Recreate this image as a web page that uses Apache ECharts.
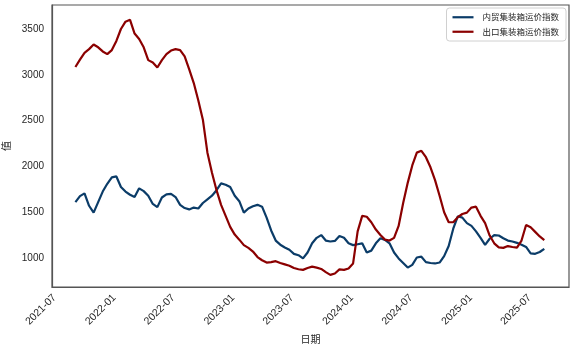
<!DOCTYPE html>
<html>
<head>
<meta charset="utf-8">
<script src="https://cdn.jsdelivr.net/npm/echarts@6/dist/echarts.min.js"></script>
<style>
  html, body { margin: 0; padding: 0; background: #fff; }
  #chart { width: 576px; height: 346px; }
</style>
</head>
<body>
<div id="chart"></div>
<script>
// Fortnightly index readings, first week 2021-09-03
const startDate = '2021-09-03';
const stepDays = 14;

const domesticIndex = [
  1610, 1675, 1705, 1570, 1495, 1610, 1725, 1810, 1880, 1890,
  1775, 1725, 1690, 1665, 1760, 1730, 1680, 1590, 1555, 1660,
  1695, 1700, 1665, 1580, 1545, 1530, 1550, 1540, 1600, 1640,
  1680, 1740, 1815, 1800, 1775, 1680, 1620, 1495, 1540, 1565,
  1580, 1560, 1440, 1300, 1190, 1145, 1115, 1090, 1045, 1030,
  995, 1060, 1160, 1220, 1250, 1190, 1180, 1186, 1240, 1220,
  1160, 1140, 1150, 1160, 1060, 1080, 1160, 1215, 1197, 1160,
  1060, 995, 945, 895, 925, 1005, 1014, 955, 945, 940,
  950, 1020, 1130, 1320, 1455, 1440, 1380, 1350, 1290, 1220,
  1142, 1210, 1250, 1245, 1215, 1190, 1180, 1165, 1145, 1120,
  1050, 1045, 1065, 1100
];

const exportIndex = [
  3085, 3165, 3240, 3280, 3330, 3300, 3255, 3225, 3270, 3370,
  3500, 3580, 3600, 3450, 3390, 3300, 3160, 3135, 3080, 3160,
  3225, 3265, 3280, 3270, 3200, 3060, 2910, 2720, 2510, 2150,
  1930, 1740, 1580, 1460, 1340, 1255, 1200, 1140, 1110, 1070,
  1010, 975, 950, 955, 965, 945, 930, 915, 890, 877,
  870, 890, 905, 895, 880, 845, 815, 830, 875, 870,
  885, 940, 1290, 1460, 1450, 1390, 1310, 1250, 1200, 1190,
  1220, 1350, 1600, 1820, 2010, 2150, 2170, 2100, 1990, 1850,
  1680, 1500, 1390, 1390, 1445, 1480, 1495, 1550, 1560, 1460,
  1380, 1245, 1160, 1115, 1110, 1130, 1120, 1113, 1190, 1360,
  1335, 1285, 1235, 1195
];

const seriesNames = ['内贸集装箱运价指数', '出口集装箱运价指数'];
const xTickLabels = ['2021-07', '2022-01', '2022-07', '2023-01', '2023-07',
                     '2024-01', '2024-07', '2025-01', '2025-07'];
const yTickValues = [1000, 1500, 2000, 2500, 3000, 3500];

const DAY = 86400000;
const t0 = new Date(startDate + 'T00:00:00').getTime();
const dates = domesticIndex.map((_, i) => t0 + i * stepDays * DAY);

const toTime = s => new Date(s + '-01T00:00:00').getTime();
const xTicks = xTickLabels.map(toTime);
const pad2 = n => (n < 10 ? '0' : '') + n;

const font = "'Liberation Sans', 'Noto Sans CJK SC', sans-serif";
const cjk = "'Noto Sans CJK SC', sans-serif";

const chart = echarts.init(document.getElementById('chart'), null, { renderer: 'canvas' });
chart.setOption({
  backgroundColor: '#ffffff',
  animation: false,
  grid: {
    left: 52, right: 7, top: 5, bottom: 59,
    show: true, borderColor: '#555555', borderWidth: 1.2,
    containLabel: false,
    outerBoundsMode: 'none'
  },
  legend: {
    data: seriesNames,
    right: 10, top: 8,
    orient: 'vertical',
    icon: 'rect',
    itemWidth: 21, itemHeight: 2.2,
    itemGap: 6,
    padding: [5, 7, 5, 6],
    backgroundColor: '#ffffff',
    borderColor: '#d0d0d0', borderWidth: 1, borderRadius: 3,
    textStyle: { fontFamily: cjk, fontSize: 8.5, color: '#262626', padding: [0, 0, 0, 4] }
  },
  xAxis: {
    type: 'value',
    min: toTime('2021-07') - 8 * DAY,
    max: toTime('2025-07') + 121 * DAY,
    name: '日期',
    nameLocation: 'middle',
    nameGap: 43,
    nameTextStyle: { fontFamily: cjk, fontSize: 10, color: '#262626' },
    axisLine: { show: true, lineStyle: { color: '#555555', width: 1.2 } },
    axisTick: { show: false },
    splitLine: { show: false },
    axisLabel: {
      customValues: xTicks,
      rotate: 45,
      margin: 9,
      fontFamily: font, fontSize: 10.5, color: '#262626',
      formatter: v => { const d = new Date(v); return d.getFullYear() + '-' + pad2(d.getMonth() + 1); }
    }
  },
  yAxis: {
    type: 'value',
    min: 683, max: 3762,
    name: '值',
    nameLocation: 'middle',
    nameRotate: 90,
    nameGap: 35,
    nameTextStyle: { fontFamily: cjk, fontSize: 10, color: '#262626' },
    axisLine: { show: true, lineStyle: { color: '#555555', width: 1.2 } },
    axisTick: { show: false },
    splitLine: { show: false },
    axisLabel: {
      customValues: yTickValues,
      margin: 8,
      fontFamily: font, fontSize: 10, color: '#262626',
      formatter: v => String(v)
    }
  },
  series: [
    {
      name: seriesNames[0], type: 'line', showSymbol: false,
      lineStyle: { width: 2.2, color: '#0b3c68' }, itemStyle: { color: '#0b3c68' },
      data: dates.map((d, i) => [d, domesticIndex[i]])
    },
    {
      name: seriesNames[1], type: 'line', showSymbol: false,
      lineStyle: { width: 2.2, color: '#8b0000' }, itemStyle: { color: '#8b0000' },
      data: dates.map((d, i) => [d, exportIndex[i]])
    }
  ]
});
</script>
</body>
</html>
